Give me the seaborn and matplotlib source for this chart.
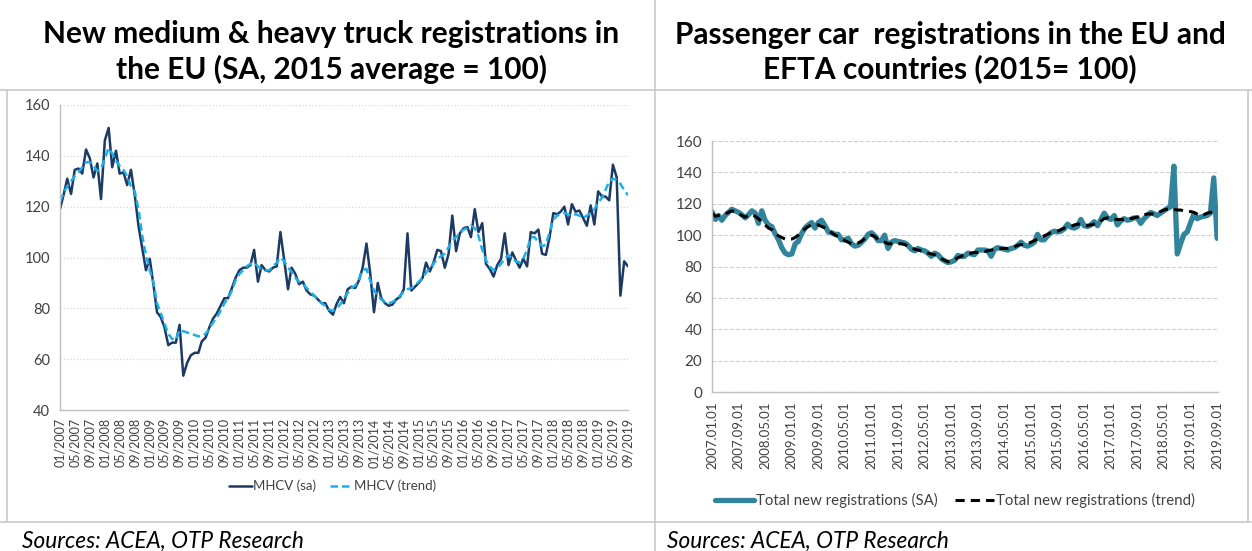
import pandas as pd
import seaborn as sns
import matplotlib.pyplot as plt
from matplotlib.lines import Line2D

# Monthly data, 01/2007 - 09/2019
months = pd.date_range("2007-01-01", periods=153, freq="MS")

# New medium & heavy truck registrations (2015 avg = 100)
mhcv_sa = [
    119, 125, 131, 125, 134.5, 135, 133, 142.5, 139, 131.5, 137, 123,
    146, 151, 135.5, 142, 133, 133.5, 128.5, 134.5, 124.5, 112.5, 103.5, 95,
    99.5, 89, 78.5, 76.5, 72.5, 65.5, 66.5, 66.5, 73.5, 53.5, 58.5, 61.5,
    62.5, 62.5, 67, 68.5, 72.5, 76, 78, 81, 84, 84, 88, 92,
    95, 96, 96, 97, 103, 90.5, 97, 95, 94.5, 96, 96.5, 110,
    99, 87.5, 96, 93.5, 89.5, 90.5, 87, 85.5, 85, 83.5, 82, 82,
    79, 77.5, 81.5, 84.5, 82, 87.5, 88.5, 88, 91, 96, 105.5, 94,
    78.5, 90, 84, 82, 81, 81.5, 83.5, 84.5, 87.5, 109.5, 87, 88.5,
    90, 92, 98, 94.5, 98, 103, 102.5, 96, 101.5, 116.5, 102.5, 109.5,
    111.5, 112, 108, 119, 110, 113.5, 97.5, 95.5, 92.5, 97, 99.5, 109.5,
    97, 102, 99, 96, 99.5, 96.5, 110, 109.5, 111, 101.5, 101, 108,
    117.5, 117, 118, 120, 113, 121, 118, 118.5, 115.5, 112.5, 120.5, 113,
    126, 124, 124, 122.5, 136.5, 131.5, 85, 98.5, 96.5,
]
mhcv_trend = [
    122, 125.5, 128, 130, 132, 133.5, 135.5, 137.5, 137.5, 136, 134, 135,
    139, 143, 141, 138, 136, 134.5, 132, 128, 126, 119, 108.5, 101,
    95, 90, 82, 78, 74, 70, 68, 67.5, 71.5, 71, 70.5, 70,
    69.5, 69, 69, 70, 72, 74.5, 76.5, 79, 82, 84, 87, 91,
    93.5, 95, 96.5, 97.5, 98, 96.5, 95.5, 95, 95, 96.5, 98, 100,
    98.5, 96, 94.5, 92, 90.5, 89.5, 88, 86.5, 85, 83.5, 82, 81,
    79.5, 79, 80, 81.5, 84, 86, 88, 89, 91.5, 95, 95.5, 91,
    87, 85, 83.5, 82.5, 82, 82.5, 83.5, 85, 86.5, 87.5, 88, 89,
    90.5, 92, 94, 96, 97.5, 99.5, 100.5, 101.5, 104, 106.5, 108, 109.5,
    111, 111.5, 112.5, 111.5, 108.5, 103, 99, 96.5, 95, 96, 97.5, 99.5,
    101, 99.5, 98.5, 98, 99.5, 103, 108, 108, 106, 104.5, 105, 110,
    115, 116.5, 117, 117.5, 117, 116.5, 117, 116.5, 115.5, 116.5, 117.5, 119,
    121.5, 123.5, 126.5, 130, 131, 130.5, 129, 126.5, 124.5,
]

# Passenger car registrations in the EU and EFTA (2015 = 100)
car_sa = [
    115, 110, 112.5, 109.5, 112.5, 114.5, 116.5, 115.5, 114.5, 113, 111, 113,
    115.5, 114, 107.5, 115.5, 109.5, 106.5, 105.5, 101, 97, 92, 88.5, 87.5,
    88, 94.5, 96, 101, 104.5, 106.5, 108, 104.5, 108, 109.5, 106, 102,
    101.5, 100.5, 100.5, 97, 97, 98, 94.5, 93, 93.5, 95.5, 97.5, 100.5,
    101.5, 99.5, 96.5, 96.5, 100, 91.5, 95.5, 96.5, 96, 95.5, 95, 93.5,
    91, 90, 91.5, 90.5, 90, 88.5, 86.5, 88.5, 87.5, 85, 83.5, 82.5,
    83, 84, 87, 86.5, 86.5, 88.5, 88, 87.5, 90.5, 90.5, 90.5, 90,
    86.5, 91, 92, 91.5, 91, 90.5, 91.5, 92, 93.5, 95.5, 93.5, 93,
    94, 95.5, 100.5, 97, 97, 99.5, 101.5, 102.5, 102, 102.5, 104, 107,
    105, 104.5, 105.5, 110, 106, 105.5, 106.5, 108.5, 106, 110, 114, 111,
    110, 112.5, 106.5, 109, 110.5, 109.5, 110, 111, 111, 107.5, 110.5, 112.5,
    114.5, 113.5, 112.5, 114, 115.5, 117, 118, 144, 88, 94.5, 100.5, 102,
    108, 113.5, 110.5, 111.5, 112, 112.5, 114, 136.5, 98,
]
car_trend = [
    114, 112, 112.5, 113, 113.5, 114.5, 115.5, 115, 114, 112.5, 111.5, 112.5,
    113, 112, 110.5, 108.5, 106.5, 104.5, 103.5, 101, 99.5, 98.5, 97.5, 97.5,
    97.5, 98.5, 100, 102, 104, 105.5, 106.5, 107, 106.5, 105.5, 104.5, 103,
    101.5, 100, 99, 98, 96.5, 95.5, 94.5, 94.5, 95, 96, 98, 99.5,
    100, 99, 97.5, 96.5, 95.5, 94.5, 94.5, 95, 94.5, 94.5, 94, 93,
    92, 91, 90.5, 90, 89.5, 88.5, 88, 87.5, 86.5, 85, 84, 83,
    83.5, 84.5, 85.5, 86.5, 87.5, 88, 88.5, 89, 89, 89.5, 89.5, 90,
    90.5, 91, 91.5, 91.5, 91.5, 91.5, 92, 92.5, 93.5, 94, 94, 94.5,
    95.5, 96.5, 97.5, 98.5, 99.5, 100.5, 101.5, 102, 102.5, 103.5, 104.5, 105,
    105.5, 106.5, 107, 107, 106.5, 106, 106.5, 107, 107.5, 109, 110.5, 111,
    110.5, 110, 110, 110, 110, 110, 110.5, 111, 111.5, 112, 113, 113.5,
    113.5, 113.5, 114, 115, 116, 116.5, 116.5, 116.5, 116, 116, 115.5, 115.5,
    115, 114.5, 113.5, 112.5, 113, 114, 114.5, 115, 115.5,
]

left_ticks = months[::4]
left_ticklabels = [d.strftime("%m/%Y") for d in left_ticks]
right_ticks = months[::8]
right_ticklabels = [d.strftime("%Y.%m.%d") for d in right_ticks]

left_title = "New medium & heavy truck registrations in\nthe EU (SA, 2015 average = 100)"
right_title = "Passenger car  registrations in the EU and\nEFTA countries (2015= 100)"
source_text = "Sources: ACEA, OTP Research"

sns.set_style("white")
plt.rcParams['font.family'] = ['Lato', 'DejaVu Sans']

W, H = 1252, 551
fig = plt.figure(figsize=(W / 100, H / 100), dpi=100)
txt_col = "#404040"
frame_col = "#c9c9c9"

# table-like frame
for x0, y0, x1, y1 in [(0, 90, W, 90), (0, 522, W, 522), (655, 0, 655, H),
                       (7, 90, 7, 522), (1248, 90, 1248, 522)]:
    fig.add_artist(Line2D([x0 / W, x1 / W], [1 - y0 / H, 1 - y1 / H],
                          color=frame_col, lw=1.2, transform=fig.transFigure))

fig.text(331 / W, 1 - 52 / H, left_title, ha="center", va="center",
         fontsize=21.5, fontweight="bold", color="black", linespacing=1.25)
fig.text(950 / W, 1 - 52 / H, right_title, ha="center", va="center",
         fontsize=21.5, fontweight="bold", color="black", linespacing=1.25)
fig.text(22 / W, 1 - 541 / H, source_text, ha="left", va="center",
         fontsize=16.3, style="italic", color="black")
fig.text(667 / W, 1 - 541 / H, source_text, ha="left", va="center",
         fontsize=16.3, style="italic", color="black")

# ---- left chart: trucks
ax1 = fig.add_axes([60 / W, 1 - 410 / H, 568 / W, 305 / H])
df1 = pd.DataFrame({"month": months, "sa": mhcv_sa, "trend": mhcv_trend})
sns.lineplot(data=df1, x="month", y="sa", ax=ax1, color="#1d3a63",
             lw=1.8, label="MHCV (sa)")
sns.lineplot(data=df1, x="month", y="trend", ax=ax1, color="#1ab0ee",
             lw=1.8, linestyle=(0, (3, 1.6)), label="MHCV (trend)")
ax1.set_xlim(months[0], months[-1])
ax1.set_ylim(40, 160)
ax1.set_yticks(range(40, 161, 20))
ax1.set_xticks(left_ticks)
ax1.set_xticklabels(left_ticklabels, rotation=90)
ax1.yaxis.grid(True, color="#d9d9d9", linestyle=":", lw=0.9)
ax1.tick_params(axis="both", direction="out", length=4, color="#bfbfbf",
                labelcolor=txt_col)
ax1.tick_params(axis="x", labelsize=9, pad=2)
ax1.tick_params(axis="y", labelsize=10.5, pad=3)
ax1.legend(loc="upper center", bbox_to_anchor=(0.48, -0.19), ncol=2,
           frameon=False, fontsize=9.5, handlelength=1.75, columnspacing=1.1,
           handletextpad=0.05, labelcolor=txt_col)

# ---- right chart: passenger cars
ax2 = fig.add_axes([712 / W, 1 - 392 / H, 506 / W, 251 / H])
df2 = pd.DataFrame({"month": months, "sa": car_sa, "trend": car_trend})
sns.lineplot(data=df2, x="month", y="sa", ax=ax2, color="#31849b",
             lw=3.8, label="Total new registrations (SA)")
sns.lineplot(data=df2, x="month", y="trend", ax=ax2, color="black",
             lw=2.2, linestyle=(0, (3, 2)), label="Total new registrations (trend)")
ax2.set_xlim(months[0], months[-1] + pd.Timedelta(days=8))
ax2.set_ylim(0, 160)
ax2.set_yticks(range(0, 161, 20))
ax2.set_xticks(right_ticks)
ax2.set_xticklabels(right_ticklabels, rotation=90)
ax2.yaxis.grid(True, color="#cfcfcf", linestyle="--", lw=0.8)
ax2.tick_params(axis="both", direction="out", length=4, color="#bfbfbf",
                labelcolor=txt_col)
ax2.tick_params(axis="x", labelsize=9.5, pad=3)
ax2.tick_params(axis="y", labelsize=11, pad=3)
ax2.legend(loc="upper center", bbox_to_anchor=(0.48, -0.35), ncol=2,
           frameon=False, fontsize=10.8, handlelength=2.6, columnspacing=1.2,
           handletextpad=0.1, labelcolor=txt_col)

for ax in (ax1, ax2):
    ax.set_xlabel("")
    ax.set_ylabel("")
    for side in ("top", "right"):
        ax.spines[side].set_visible(False)
    for side in ("left", "bottom"):
        ax.spines[side].set_color("#bfbfbf")
        ax.spines[side].set_linewidth(1)

fig.savefig("out.png", dpi=100)
